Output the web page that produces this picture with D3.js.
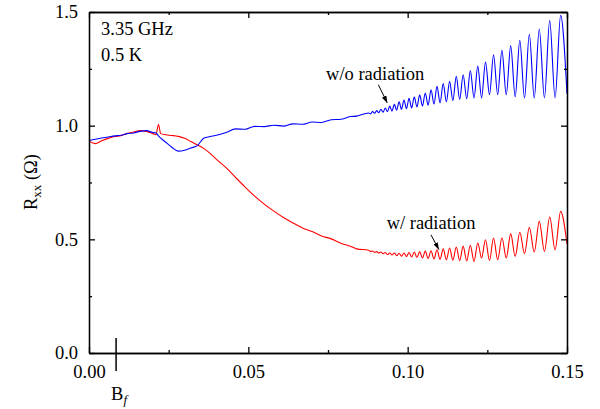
<!DOCTYPE html>
<html>
<head>
<meta charset="utf-8">
<script src="https://cdn.jsdelivr.net/npm/d3@7"></script>
<style>
  body { margin: 0; background: #fff; }
  svg { display: block; font-family: "Liberation Serif", "Times New Roman", serif; }
  .axis path, .axis line { stroke: #000; stroke-width: 1.3; }
  .axis text { font-size: 18.5px; font-family: "Liberation Serif", serif; fill: #000; }
</style>
</head>
<body>
<svg id="chart" width="600" height="409"></svg>
<script>
// B field (T) below the oscillating region, shared by both traces
var lowB = [0, 0.002, 0.004, 0.006, 0.008, 0.010, 0.012, 0.014, 0.016, 0.018, 0.020, 0.021,
  0.0218, 0.0225, 0.024, 0.026, 0.028, 0.030, 0.032, 0.034, 0.036, 0.038, 0.040, 0.043,
  0.046, 0.049, 0.052, 0.055, 0.058, 0.061, 0.064, 0.067, 0.070, 0.073, 0.076, 0.079, 0.082, 0.084];
var blueLow = [0.935, 0.94, 0.946, 0.95, 0.955, 0.958, 0.965, 0.968, 0.975, 0.978, 0.97, 0.968,
  0.955, 0.945, 0.928, 0.905, 0.888, 0.892, 0.902, 0.912, 0.945, 0.952, 0.958, 0.97,
  0.986, 0.984, 0.997, 0.996, 1.002, 0.998, 1.008, 1.006, 1.016, 1.014, 1.026, 1.028, 1.04, 1.042];
var redLow = [0.932, 0.921, 0.934, 0.944, 0.952, 0.956, 0.966, 0.972, 0.978, 0.975, 0.965, 0.96,
  1.005, 0.965, 0.96, 0.957, 0.953, 0.945, 0.93, 0.915, 0.9, 0.878, 0.852, 0.815,
  0.772, 0.73, 0.69, 0.655, 0.624, 0.596, 0.572, 0.55, 0.534, 0.515, 0.502, 0.483, 0.47, 0.458];

// SdH region: B of each peak / trough, plus the right edge
var oscB = [0.08774, 0.08836, 0.08899, 0.08963, 0.09028, 0.09093, 0.09160, 0.09228, 0.09296, 0.09366,
  0.09437, 0.09508, 0.09581, 0.09655, 0.09730, 0.09807, 0.09884, 0.09963, 0.10043, 0.10125,
  0.10207, 0.10291, 0.10377, 0.10464, 0.10552, 0.10642, 0.10733, 0.10826, 0.10921, 0.11017,
  0.11115, 0.11215, 0.11316, 0.11419, 0.11525, 0.11632, 0.11741, 0.11853, 0.11966, 0.12082,
  0.12200, 0.12320, 0.12442, 0.12568, 0.12695, 0.12825, 0.12958, 0.13094, 0.13233, 0.13374,
  0.13519, 0.13667, 0.13818, 0.13972, 0.14130, 0.14292, 0.14457, 0.14626, 0.14800, 0.15];
var blueOsc = [1.056, 1.052, 1.062, 1.055, 1.066, 1.057, 1.072, 1.059, 1.078, 1.061,
  1.086, 1.064, 1.094, 1.068, 1.105, 1.072, 1.113, 1.075, 1.12, 1.078,
  1.126, 1.082, 1.136, 1.086, 1.144, 1.09, 1.158, 1.095, 1.173, 1.1,
  1.185, 1.105, 1.195, 1.11, 1.217, 1.115, 1.224, 1.118, 1.242, 1.122,
  1.262, 1.122, 1.28, 1.136, 1.312, 1.136, 1.331, 1.136, 1.352, 1.127,
  1.375, 1.122, 1.402, 1.122, 1.425, 1.122, 1.462, 1.122, 1.485, 1.14];
var redOsc = [0.452, 0.447, 0.449, 0.443, 0.446, 0.44, 0.444, 0.437, 0.442, 0.433,
  0.44, 0.431, 0.44, 0.428, 0.439, 0.426, 0.44, 0.424, 0.442, 0.422,
  0.444, 0.42, 0.446, 0.418, 0.448, 0.416, 0.45, 0.414, 0.454, 0.412,
  0.458, 0.41, 0.462, 0.408, 0.466, 0.406, 0.47, 0.405, 0.474, 0.403,
  0.484, 0.418, 0.498, 0.407, 0.506, 0.41, 0.507, 0.418, 0.525, 0.425,
  0.531, 0.437, 0.553, 0.444, 0.579, 0.447, 0.598, 0.454, 0.623, 0.48];

var xMajor = [0, 0.05, 0.10, 0.15], xMinor = [0.025, 0.075, 0.125];
var yMajor = [0, 0.5, 1.0, 1.5], yMinor = [0.25, 0.75, 1.25];
var bf = 0.0085;

var svg = d3.select("#chart");
var margin = {top: 12, right: 33, bottom: 56, left: 89};
var W = 600 - margin.left - margin.right, H = 409 - margin.top - margin.bottom;
var g = svg.append("g").attr("transform", "translate(" + margin.left + "," + margin.top + ")");

var x = d3.scaleLinear().domain([0, 0.15]).range([0, W]);
var y = d3.scaleLinear().domain([0, 1.5]).range([H, 0]);

function series(bs, vs) { return bs.map((b, i) => ({b: b, r: vs[i]})); }
var blueData = series(lowB, blueLow).concat(series(oscB, blueOsc));
var redData = series(lowB, redLow).concat(series(oscB, redOsc));

var line = d3.line().x(d => x(d.b)).y(d => y(d.r)).curve(d3.curveMonotoneX);

g.append("path").datum(redData).attr("d", line)
  .attr("fill", "none").attr("stroke", "#ff0000").attr("stroke-width", 1.1);
g.append("path").datum(blueData).attr("d", line)
  .attr("fill", "none").attr("stroke", "#0000ff").attr("stroke-width", 1.1);

// axes, ticks inward on all four sides
function addAxis(ax, tr) {
  return g.append("g").attr("class", "axis").attr("transform", tr).call(ax);
}
addAxis(d3.axisBottom(x).tickValues(xMajor).tickSize(-6).tickSizeOuter(0).tickPadding(12)
  .tickFormat(d3.format(".2f")), "translate(0," + H + ")");
addAxis(d3.axisBottom(x).tickValues(xMinor).tickSize(-3).tickSizeOuter(0).tickFormat(""), "translate(0," + H + ")");
addAxis(d3.axisTop(x).tickValues(xMajor).tickSize(-6).tickSizeOuter(0).tickFormat(""), "translate(0,0)");
addAxis(d3.axisTop(x).tickValues(xMinor).tickSize(-3).tickSizeOuter(0).tickFormat(""), "translate(0,0)");
addAxis(d3.axisLeft(y).tickValues(yMajor).tickSize(-6).tickSizeOuter(0).tickPadding(11)
  .tickFormat(d3.format(".1f")), "translate(0,0)");
addAxis(d3.axisLeft(y).tickValues(yMinor).tickSize(-3).tickSizeOuter(0).tickFormat(""), "translate(0,0)");
addAxis(d3.axisRight(y).tickValues(yMajor).tickSize(-6).tickSizeOuter(0).tickFormat(""), "translate(" + W + ",0)");
addAxis(d3.axisRight(y).tickValues(yMinor).tickSize(-3).tickSizeOuter(0).tickFormat(""), "translate(" + W + ",0)");

// B_f marker
g.append("line").attr("x1", x(bf)).attr("x2", x(bf)).attr("y1", H - 15).attr("y2", H + 18)
  .attr("stroke", "#000").attr("stroke-width", 1.5);
var bt = g.append("text").attr("x", x(bf) - 5).attr("y", H + 47).attr("font-size", 18.5);
bt.append("tspan").text("B");
bt.append("tspan").attr("font-style", "italic").attr("font-size", 13).attr("dy", 4).text("f");

// y axis title
var yt = svg.append("text").attr("transform", "translate(37,182) rotate(-90)")
  .attr("text-anchor", "middle").attr("font-size", 18.5);
yt.append("tspan").text("R");
yt.append("tspan").attr("font-size", 13).attr("dy", 4).text("xx");
yt.append("tspan").attr("dy", -4).text(" (\u03A9)");

// condition labels
g.append("text").attr("x", 12).attr("y", 23).attr("font-size", 18.5).text("3.35 GHz");
g.append("text").attr("x", 12).attr("y", 49).attr("font-size", 18.5).text("0.5 K");

// curve labels with arrows
svg.append("defs").append("marker").attr("id", "ah").attr("viewBox", "0 0 10 10")
  .attr("refX", 10).attr("refY", 5).attr("markerWidth", 7).attr("markerHeight", 7)
  .attr("orient", "auto").append("path").attr("d", "M0,1.5L10,5L0,8.5Z").attr("fill", "#000");

var notes = [
  {text: "w/o radiation", tb: 0.0744, tr: 1.202, b0: 0.0908, r0: 1.18, b1: 0.0936, r1: 1.10},
  {text: "w/ radiation", tb: 0.0934, tr: 0.546, b0: 0.1073, r0: 0.52, b1: 0.1098, r1: 0.455}
];
notes.forEach(function (n) {
  g.append("text").attr("x", x(n.tb)).attr("y", y(n.tr)).attr("font-size", 18.5).text(n.text);
  g.append("line").attr("x1", x(n.b0)).attr("y1", y(n.r0)).attr("x2", x(n.b1)).attr("y2", y(n.r1))
    .attr("stroke", "#000").attr("stroke-width", 1).attr("marker-end", "url(#ah)");
});
</script>
</body>
</html>
